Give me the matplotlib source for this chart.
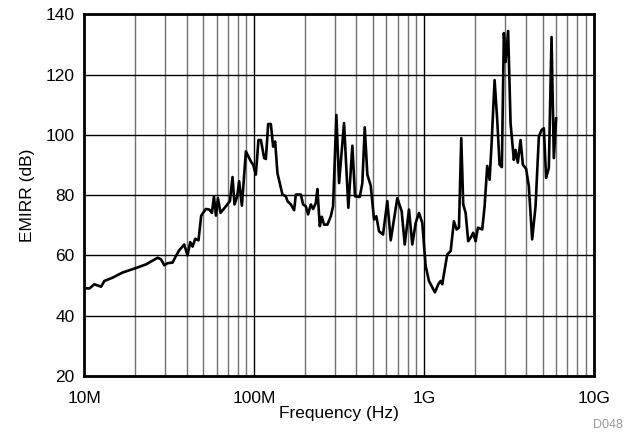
import matplotlib
matplotlib.use('Agg')
import matplotlib.pyplot as plt
from matplotlib.ticker import FixedLocator, LogLocator, NullFormatter

plt.rcParams['font.family'] = ['Liberation Sans', 'DejaVu Sans']

# Frequency in MHz, EMIRR in dB
freq_mhz = [10, 10.7, 11.45, 11.97, 12.54, 13.11, 14.67, 16.8, 19.68, 23.07,
            27.0, 28.27, 29.55, 30.9, 33.07, 34.63, 36.2, 38.74, 40.5, 42.0,
            43.37, 44.98, 47.0, 48.77, 51.99, 54.37, 56.4, 57.95, 59.54, 61.17,
            63.37, 68.16, 71.96, 74.56, 76.6, 79.43, 81.6, 84.66, 89.4, 95.6,
            98.6, 102.3, 106.0, 109.5, 114.5, 117.2, 120.9, 125.4, 129.3, 132.9,
            137.1, 146.7, 153.7, 157.0, 164.4, 171.9, 175.9, 188.3, 194.2, 201.4,
            207.8, 215.5, 222.4, 230.7, 235.7, 243.5, 250.2, 258.1, 270.0, 282.7,
            291.6, 304.9, 316.2, 338.3, 358.6, 378.6, 392.7, 418.7, 433.6, 448.0,
            464.0, 485.9, 508.1, 524.2, 543.7, 574.0, 608.5, 637.2, 696.6, 739.4,
            770.2, 816.2, 853.5, 893.8, 934.6, 977.2, 1023, 1070, 1160, 1214,
            1254, 1281, 1341, 1371, 1436, 1501, 1557, 1607, 1658, 1703,
            1759, 1822, 1908, 1950, 2014, 2078, 2203, 2276, 2358, 2436,
            2502, 2606, 2700, 2788, 2876, 2955, 3024, 3131, 3236, 3383,
            3462, 3571, 3705, 3823, 3998, 4146, 4337, 4541, 4749, 4926,
            5081, 5242, 5437, 5640, 5818, 6001]
emirr_db = [49.1, 49.0, 50.4, 50.0, 49.6, 51.5, 52.6, 54.3, 55.6, 57.0,
            59.2, 58.7, 56.7, 57.4, 57.6, 59.8, 61.7, 63.6, 60.0, 64.4,
            62.9, 65.5, 65.0, 73.2, 75.4, 75.2, 74.1, 79.6, 73.2, 79.0,
            74.1, 76.3, 78.0, 86.0, 76.9, 79.6, 84.6, 76.5, 94.5, 91.2,
            90.1, 86.8, 98.3, 98.3, 92.3, 92.0, 103.6, 103.6, 96.1, 97.8,
            87.3, 80.2, 79.6, 78.0, 76.9, 75.0, 80.2, 80.2, 76.9, 76.3,
            73.6, 76.9, 75.4, 77.4, 82.0, 69.7, 72.8, 70.2, 70.2, 73.0,
            76.3, 106.6, 84.0, 103.9, 75.8, 96.4, 79.6, 79.4, 84.0, 102.5,
            86.8, 83.1, 71.9, 73.0, 68.0, 66.9, 78.0, 65.0, 79.0, 74.6,
            63.6, 75.2, 63.6, 70.8, 74.1, 70.8, 56.5, 51.5, 47.7, 50.4,
            51.5, 50.4, 57.0, 60.3, 61.4, 71.3, 68.6, 69.2, 98.9, 76.9,
            74.1, 64.7, 66.4, 67.5, 64.7, 69.2, 68.6, 76.3, 89.7, 85.1,
            97.2, 118.2, 105.0, 90.1, 89.3, 133.8, 124.2, 134.5, 103.9, 91.7,
            95.0, 90.8, 98.3, 90.1, 88.7, 82.9, 65.3, 76.3, 99.4, 101.6,
            102.2, 85.7, 89.0, 132.5, 92.3, 105.5]

x_ticks = [1e7, 1e8, 1e9, 1e10]
x_labels = ['10M', '100M', '1G', '10G']
y_ticks = [20, 40, 60, 80, 100, 120, 140]

freq_hz = [f * 1e6 for f in freq_mhz]

fig = plt.figure(figsize=(6.32, 4.36), dpi=100)
ax = fig.add_axes([0.1335, 0.138, 0.806, 0.829])

ax.plot(freq_hz, emirr_db, color='black', linewidth=1.9, zorder=3)

ax.set_xscale('log')
ax.set_xlim(1e7, 1e10)
ax.set_ylim(20, 140)
ax.xaxis.set_major_locator(FixedLocator(x_ticks))
ax.set_xticklabels(x_labels)
ax.xaxis.set_minor_locator(LogLocator(base=10, subs=range(2, 10), numticks=20))
ax.xaxis.set_minor_formatter(NullFormatter())
ax.set_yticks(y_ticks)

ax.grid(True, which='major', color='black', linewidth=1.0)
ax.grid(True, which='minor', axis='x', color='#707070', linewidth=1.0)
ax.tick_params(which='both', length=0, labelsize=12.5)
ax.tick_params(axis='x', pad=11)
ax.tick_params(axis='y', pad=7)

for s in ax.spines.values():
    s.set_linewidth(2.0)

ax.set_xlabel('Frequency (Hz)', fontsize=12.5, labelpad=0)
ax.set_ylabel('EMIRR (dB)', fontsize=12.5, labelpad=8)

fig.text(0.985, 0.012, 'D048', fontsize=9, color='#999999', ha='right', va='bottom')

fig.savefig('out.png', dpi=100)
